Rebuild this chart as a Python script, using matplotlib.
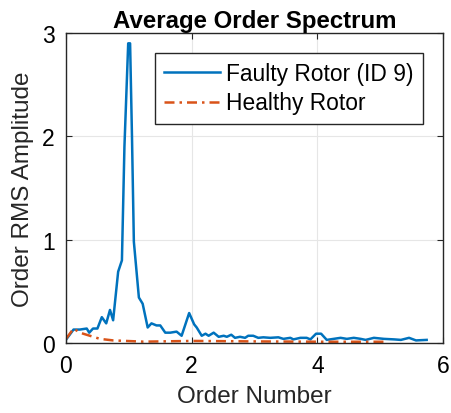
import matplotlib
matplotlib.use("Agg")
import matplotlib.pyplot as plt
import numpy as np

plt.rcParams['font.family'] = ['Liberation Sans', 'DejaVu Sans']

# faulty rotor spectrum (order, amplitude)
faulty_order = [0.01, 0.12, 0.22, 0.33, 0.37, 0.43, 0.50, 0.57, 0.64, 0.70, 0.75,
                0.83, 0.89, 0.93, 0.99, 1.02, 1.05, 1.08, 1.16, 1.22, 1.30, 1.36,
                1.44, 1.50, 1.58, 1.66, 1.76, 1.84, 1.96, 2.04, 2.08, 2.16, 2.22,
                2.27, 2.35, 2.43, 2.51, 2.56, 2.63, 2.69, 2.77, 2.85, 2.90, 2.98,
                3.06, 3.14, 3.25, 3.38, 3.46, 3.57, 3.62, 3.73, 3.83, 3.89, 3.98,
                4.06, 4.15, 4.26, 4.37, 4.47, 4.58, 4.69, 4.77, 4.90, 5.06, 5.22,
                5.33, 5.46, 5.57, 5.74]
faulty_amp = [0.04, 0.13, 0.13, 0.14, 0.10, 0.14, 0.14, 0.25, 0.19, 0.32, 0.22,
              0.69, 0.80, 1.90, 2.90, 2.90, 2.00, 0.98, 0.44, 0.38, 0.15, 0.19,
              0.17, 0.17, 0.10, 0.10, 0.11, 0.07, 0.29, 0.18, 0.15, 0.07, 0.09,
              0.07, 0.10, 0.06, 0.07, 0.06, 0.08, 0.05, 0.06, 0.05, 0.07, 0.07,
              0.05, 0.055, 0.05, 0.055, 0.04, 0.05, 0.035, 0.05, 0.05, 0.035, 0.09,
              0.09, 0.03, 0.04, 0.05, 0.04, 0.05, 0.04, 0.03, 0.05, 0.04, 0.035,
              0.03, 0.05, 0.025, 0.03]

# healthy rotor spectrum
healthy_order = [0.0, 0.12, 0.22, 0.38, 0.54, 0.75, 1.23, 2.02, 3.08, 4.15, 5.08]
healthy_amp = [0.04, 0.14, 0.10, 0.07, 0.04, 0.025, 0.013, 0.02, 0.015, 0.012, 0.012]

fig = plt.figure(figsize=(4.52, 4.14), dpi=100)
ax = fig.add_axes([66/452, 1-344/414, (443-66)/452, (344-34)/414])

ax.plot(faulty_order, faulty_amp, color='#0072BD', lw=1.8, label='Faulty Rotor (ID 9)')
ax.plot(healthy_order, healthy_amp, color='#D95319', lw=1.8, ls=(0, (4, 2, 1, 2)),
        label='Healthy Rotor')

ax.set_xlim(0, 6)
ax.set_ylim(0, 3)
ax.set_xticks([0, 2, 4, 6])
ax.set_yticks([0, 1, 2, 3])
ax.grid(True, color='#e6e6e6', lw=0.8)
ax.set_axisbelow(True)
ax.tick_params(direction='in', top=True, right=True, labelsize=16.5, length=4,
               color='#262626', pad=8)
for s in ax.spines.values():
    s.set_color('#262626')
    s.set_linewidth(1.0)

ax.set_title('Average Order Spectrum', fontsize=17.3, fontweight='bold', pad=4)
ax.set_xlabel('Order Number', fontsize=17.5, color='#262626', labelpad=6)
ax.set_ylabel('Order RMS Amplitude', fontsize=17.5, color='#262626', labelpad=6)

leg = ax.legend(loc='upper right', fontsize=16.4, fancybox=False, framealpha=1,
                edgecolor='#262626', borderpad=0.4, handlelength=2.45,
                handletextpad=0.28, labelspacing=0.28, borderaxespad=0)
leg.set_bbox_to_anchor((423/452, 1-54/414), transform=fig.transFigure)

fig.savefig('out.png', dpi=100)
